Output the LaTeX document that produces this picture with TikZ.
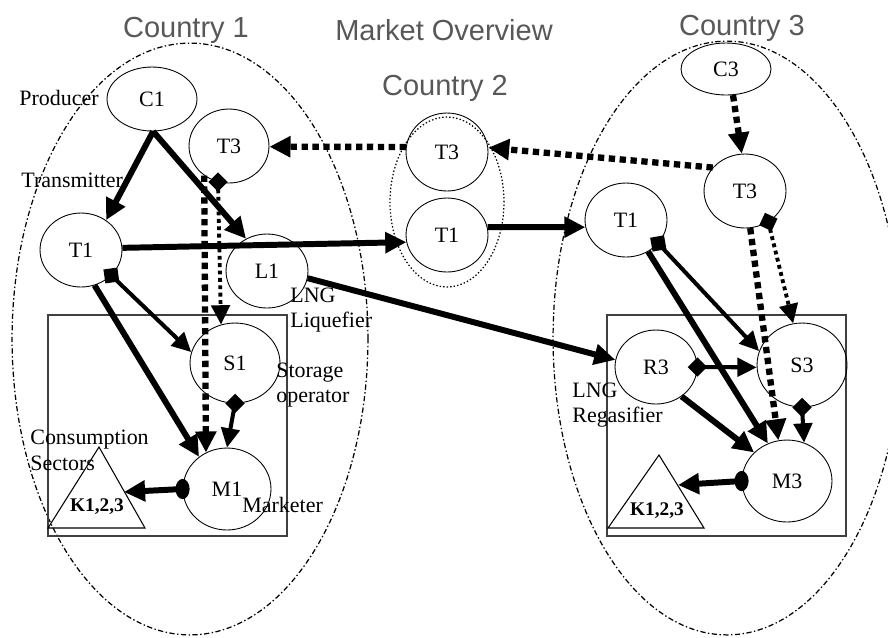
\documentclass[tikz,border=0pt]{standalone}
\usepackage{fontspec}
\setmainfont{Liberation Serif}
\newfontfamily\titlefont{Liberation Sans}
\usetikzlibrary{shapes.geometric,arrows.meta}
\definecolor{titlegray}{RGB}{88,88,88}
\tikzset{
  nd/.style 2 args={draw, ellipse, line width=0.5pt, inner sep=0pt,
    minimum width=#1*0.04cm, minimum height=#2*0.04cm,
    font=\fontsize{12.5}{15}\selectfont},
  country/.style 2 args={draw, ellipse, line width=0.7pt, inner sep=0pt,
    minimum width=#1*0.04cm, minimum height=#2*0.04cm,
    dash pattern=on 3pt off 1.4pt on 0.8pt off 1.4pt},
  cdot/.style 2 args={draw, ellipse, line width=0.7pt, inner sep=0pt,
    minimum width=#1*0.04cm, minimum height=#2*0.04cm,
    dash pattern=on 0.8pt off 1.2pt},
  ttl/.style={font=\titlefont\fontsize{16.5}{19}\selectfont, text=titlegray},
  lbl/.style={font=\fontsize{12.5}{14.6}\selectfont, inner sep=0pt, anchor=west, align=left},
  thk/.style={line width=3.4pt, -{Triangle[length=12pt,width=11.5pt]}},
  med/.style={line width=2.3pt, -{Triangle[length=11pt,width=10.5pt]}},
  dsh/.style={line width=3.6pt, dash pattern=on 3.6pt off 2.6pt, -{Triangle[length=12pt,width=11.5pt]}},
  dotline/.style={line width=2.2pt, dash pattern=on 2.2pt off 2pt, -{Triangle[length=11pt,width=10.5pt]}},
  sqmark/.style={fill=black, inner sep=0pt, minimum size=8pt, rotate=#1},
  diamark/.style={fill=black, inner sep=0pt, minimum size=7.8pt, rotate=45+#1},
  blobmark/.style={fill=black, ellipse, inner sep=0pt, minimum width=8pt, minimum height=11.5pt},
  boxline/.style={draw=black!75, line width=0.6pt},
  tri/.style={draw, line width=0.6pt}
}
\begin{document}
\begin{tikzpicture}[x=0.02cm,y=-0.02cm]
\useasboundingbox (0,0) rectangle (888,637);
% country outlines
\node[country={178}{296}] (cty1) at (190,339) {};
\node[country={174}{297}] (cty3) at (727,338) {};
\node[cdot={57}{85}] (cty2) at (447,202) {};
% titles
\node[ttl] (t1) at (186,30) {Country 1};
\node[ttl] (t0) at (444,30) {Market Overview};
\node[ttl] (t2) at (445,88) {Country 2};
\node[ttl] (t3) at (742,28) {Country 3};
% boxes
\draw[boxline] (48,315) rectangle (287,536);
\draw[boxline] (607,315) rectangle (846,536);
% triangles
\coordinate (K1a) at (48,528); \coordinate (K1b) at (99,447); \coordinate (K1c) at (145,528);
\draw[tri] (K1a) -- (K1b) -- (K1c) -- cycle;
\node[font=\bfseries\fontsize{11}{13}\selectfont] (K1) at (97,507) {K1,2,3};
\coordinate (K1e) at (124,492);
\coordinate (K3a) at (608,528); \coordinate (K3b) at (659,455); \coordinate (K3c) at (704,528);
\draw[tri] (K3a) -- (K3b) -- (K3c) -- cycle;
\node[font=\bfseries\fontsize{11}{13}\selectfont] (K3) at (657,511) {K1,2,3};
\coordinate (K3e) at (678,485);
% nodes
\node[nd={45}{32}] (C1) at (152,99) {C1};
\node[nd={40}{37}] (T3a) at (229,146) {T3};
\node[nd={41}{37}] (T1a) at (81,250) {T1};
\node[nd={41}{37}] (L1) at (267,271) {L1};
\node[nd={45}{40}] (S1) at (235,363) {S1};
\node[nd={44}{41}] (M1) at (227,489) {M1};
\node[nd={41}{39}] (T3b) at (447,152) {T3};
\node[nd={41}{37}] (T1b) at (447,235) {T1};
\node[nd={45}{26}] (C3) at (726,69) {C3};
\node[nd={41}{37}] (T3c) at (745,191) {T3};
\node[nd={41}{37}] (T1c) at (626,220) {T1};
\node[nd={41}{37}] (R3) at (656,367) {R3};
\node[nd={45}{42}] (S3) at (802,365) {S3};
\node[nd={45}{41}] (M3) at (787,481) {M3};
% labels
\node[lbl] (lp) at (19,98) {Producer};
\node[lbl] (lt) at (21,180) {Transmitter};
\node[lbl] (ll) at (290,310) {LNG\\Liquefier};
\node[lbl] (ls) at (276,385) {Storage\\operator};
\node[lbl] (lc) at (30,450) {Consumption\\Sectors};
\node[lbl] (lm) at (242,505) {Marketer};
\node[lbl] (lr) at (572,405) {LNG\\Regasifier};
% connectors country 1
\draw[thk] (C1.-88) -- (T1a.50);
\draw[thk] (C1.-88) -- (L1.123);
\draw[thk] (T1a.3) -- (T1b.190);
\draw[dsh] (T3b.173) -- (T3a.-1);
\draw[thk] (L1.-10) -- (R3.170);
\draw[med] (T1a.-40) -- (S1.166);
\node[sqmark=8] (sqa) at (T1a.-40) {};
\draw[thk] (T1a.-69) -- (M1.131);
\draw[dotline] (T3a.-107) -- (S1.110);
\node[diamark=0] (dma) at (T3a.-107) {};
\draw[dsh] (T3a.-130) -- (M1.120);
\draw[med] (S1.-90) -- (M1.90);
\node[diamark=0] (dms) at (S1.-90) {};
\draw[thk] (M1.180) -- (K1e);
\node[blobmark] (bl1) at (M1.180) {};
% country 2 / 3
\draw[dsh] (T3c.144) -- (T3b.6);
\draw[thk] (T1b.11) -- (T1c.190);
\draw[dsh] (C3.-75) -- (T3c.95);
\draw[med] (T1c.-36) -- (S3.162);
\node[sqmark=10] (sqc) at (T1c.-36) {};
\draw[thk] (T1c.-55) -- (M3.117);
\draw[dotline] (T3c.-53) -- (S3.102);
\node[diamark=20] (dmc) at (T3c.-53) {};
\draw[dsh] (T3c.-82) -- (M3.102);
\draw[med] (R3.0) -- (S3.183);
\node[diamark=0] (dmr) at (R3.0) {};
\draw[thk] (R3.-49) -- (M3.139);
\draw[med] (S3.-90) -- (M3.66);
\node[diamark=0] (dm3) at (S3.-90) {};
\draw[thk] (M3.180) -- (K3e);
\node[blobmark] (bl3) at (M3.180) {};
\end{tikzpicture}
\end{document}
